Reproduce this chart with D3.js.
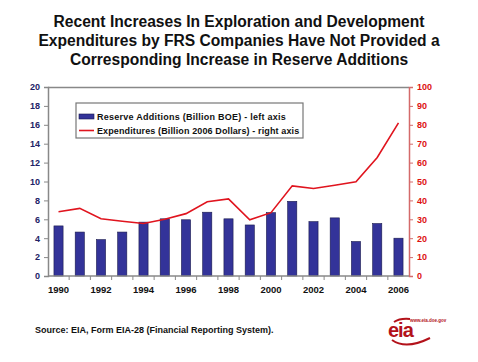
<!DOCTYPE html>
<html>
<head>
<meta charset="utf-8">
<script src="https://cdn.jsdelivr.net/npm/d3@7"></script>
<style>
  body { margin: 0; background: #fff; }
  text { font-family: Arial, "Liberation Sans", sans-serif; font-weight: bold; }
</style>
</head>
<body>
<div id="chart"></div>
<script>
var svgWidth = 478;
var svgHeight = 362;

// data
var years = [1990, 1991, 1992, 1993, 1994, 1995, 1996, 1997, 1998, 1999, 2000, 2001, 2002, 2003, 2004, 2005, 2006];
var reserveAdditions = [5.3, 4.65, 3.85, 4.65, 5.7, 6.05, 5.95, 6.75, 6.05, 5.4, 6.7, 7.9, 5.75, 6.15, 3.65, 5.55, 4.0];
var expenditures = [34, 35.8, 30.3, 29, 27.8, 30, 33, 39.3, 40.8, 29.7, 33.5, 47.7, 46.3, 48, 49.9, 62.7, 81];
var leftTicks = [0, 2, 4, 6, 8, 10, 12, 14, 16, 18, 20];
var rightTicks = [0, 10, 20, 30, 40, 50, 60, 70, 80, 90, 100];
var yearLabels = [1990, 1992, 1994, 1996, 1998, 2000, 2002, 2004, 2006];

var titleLines = [
  "Recent Increases In Exploration and Development",
  "Expenditures by FRS Companies Have Not Provided a",
  "Corresponding Increase in Reserve Additions"
];

var margin = { top: 87, right: 69, bottom: 86, left: 48 };
var chartwidth = svgWidth - margin.left - margin.right;
var chartheight = svgHeight - margin.top - margin.bottom;

var svg = d3.select("#chart")
  .append("svg")
  .attr("width", svgWidth)
  .attr("height", svgHeight);

// title
svg.append("g").selectAll("text")
  .data(titleLines)
  .enter()
  .append("text")
  .attr("x", 239)
  .attr("y", (d, i) => 27 + i * 19)
  .attr("text-anchor", "middle")
  .attr("font-size", "15.6px")
  .attr("fill", "#111")
  .text(d => d);

var chartGroup = svg.append("g")
  .attr("transform", `translate(${margin.left}, ${margin.top})`);

var xScale = d3.scaleBand()
  .domain(years)
  .range([0, chartwidth])
  .paddingInner(0.57)
  .paddingOuter(0.28);

var yLeft = d3.scaleLinear().domain([0, 20]).range([chartheight, 0]);
var yRight = d3.scaleLinear().domain([0, 100]).range([chartheight, 0]);

// top frame line
chartGroup.append("line")
  .attr("x1", 0).attr("x2", chartwidth)
  .attr("y1", 0.5).attr("y2", 0.5)
  .attr("stroke", "#888").attr("stroke-width", 1.5);

// bars
chartGroup.selectAll("rect.bar")
  .data(reserveAdditions)
  .enter()
  .append("rect")
  .attr("class", "bar")
  .attr("x", (d, i) => xScale(years[i]))
  .attr("y", d => yLeft(d))
  .attr("width", xScale.bandwidth())
  .attr("height", d => chartheight - yLeft(d))
  .attr("fill", "#333399")
  .attr("stroke", "#1a1a4d")
  .attr("stroke-width", 0.6);

// expenditures line
var line = d3.line()
  .x((d, i) => xScale(years[i]) + xScale.bandwidth() / 2)
  .y(d => yRight(d));

chartGroup.append("path")
  .datum(expenditures)
  .attr("d", line)
  .attr("fill", "none")
  .attr("stroke", "#e0141e")
  .attr("stroke-width", 1.6);

// left axis
var leftAxis = d3.axisLeft(yLeft).tickValues(leftTicks).tickSize(4).tickPadding(4);
var gl = chartGroup.append("g").call(leftAxis);
gl.select(".domain").attr("stroke", "#888").attr("stroke-width", 1.5);
gl.selectAll(".tick line").attr("stroke", "#888");
gl.selectAll("text").attr("font-size", "9px").attr("fill", "#222266")
  .style("font-family", "Arial, 'Liberation Sans', sans-serif").style("font-weight", "bold");

// right axis
var rightAxis = d3.axisRight(yRight).tickValues(rightTicks).tickSize(4).tickPadding(4);
var gr = chartGroup.append("g")
  .attr("transform", `translate(${chartwidth}, 0)`)
  .call(rightAxis);
gr.select(".domain").attr("stroke", "#d46a6a").attr("stroke-width", 1.5);
gr.selectAll(".tick line").attr("stroke", "#d46a6a");
gr.selectAll("text").attr("font-size", "9px").attr("fill", "#dd1111")
  .style("font-family", "Arial, 'Liberation Sans', sans-serif").style("font-weight", "bold");

// bottom axis: ticks between categories
var gb = chartGroup.append("g")
  .attr("transform", `translate(0, ${chartheight})`);
gb.append("line")
  .attr("x1", 0).attr("x2", chartwidth)
  .attr("stroke", "#888").attr("stroke-width", 1.5);
var step = xScale.step();
var boundaries = years.slice(1).map(y => xScale(y) - (step - xScale.bandwidth()) / 2);
gb.selectAll("line.tk")
  .data(boundaries)
  .enter()
  .append("line")
  .attr("class", "tk")
  .attr("x1", d => d).attr("x2", d => d)
  .attr("y1", 0).attr("y2", 4)
  .attr("stroke", "#888");
gb.selectAll("text")
  .data(yearLabels)
  .enter()
  .append("text")
  .attr("x", d => xScale(d) + xScale.bandwidth() / 2)
  .attr("y", 17)
  .attr("text-anchor", "middle")
  .attr("font-size", "9.5px")
  .attr("fill", "#111")
  .text(d => d);

// legend
var legend = svg.append("g").attr("transform", "translate(76, 103)");
legend.append("rect")
  .attr("width", 227).attr("height", 35)
  .attr("fill", "#fff").attr("stroke", "#777").attr("stroke-width", 1.2);
legend.append("rect")
  .attr("x", 3).attr("y", 11).attr("width", 15).attr("height", 5)
  .attr("fill", "#333399").attr("stroke", "#1a1a4d").attr("stroke-width", 0.6);
legend.append("text")
  .attr("x", 21).attr("y", 17)
  .attr("font-size", "9px").attr("fill", "#111")
  .attr("letter-spacing", "0.25px")
  .text("Reserve Additions (Billion BOE) - left axis");
legend.append("line")
  .attr("x1", 3).attr("x2", 18).attr("y1", 27.5).attr("y2", 27.5)
  .attr("stroke", "#e0141e").attr("stroke-width", 1.6);
legend.append("text")
  .attr("x", 21).attr("y", 31)
  .attr("font-size", "9px").attr("fill", "#111")
  .attr("letter-spacing", "0.12px")
  .text("Expenditures (Billion 2006 Dollars) - right axis");

// source note
svg.append("text")
  .attr("x", 35).attr("y", 333)
  .attr("font-size", "9px").attr("fill", "#111")
  .text("Source: EIA, Form EIA-28 (Financial Reporting System).");

// eia logo
var logo = svg.append("g").attr("transform", "translate(386, 318)");
logo.append("path")
  .attr("d", "M 6 22 Q 20 32 44 20")
  .attr("fill", "none").attr("stroke", "#b3121a").attr("stroke-width", 2);
logo.append("path")
  .attr("d", "M 8 4 Q 14 0 24 1")
  .attr("fill", "none").attr("stroke", "#b3121a").attr("stroke-width", 2);
logo.append("text")
  .attr("x", 2).attr("y", 19)
  .attr("font-size", "20px").attr("fill", "#b3121a")
  .attr("letter-spacing", "-1px")
  .text("eia");
logo.append("text")
  .attr("x", 24).attr("y", 4)
  .attr("font-size", "4.5px").attr("fill", "#b3121a")
  .attr("font-weight", "normal")
  .text("www.eia.doe.gov");
</script>
</body>
</html>
